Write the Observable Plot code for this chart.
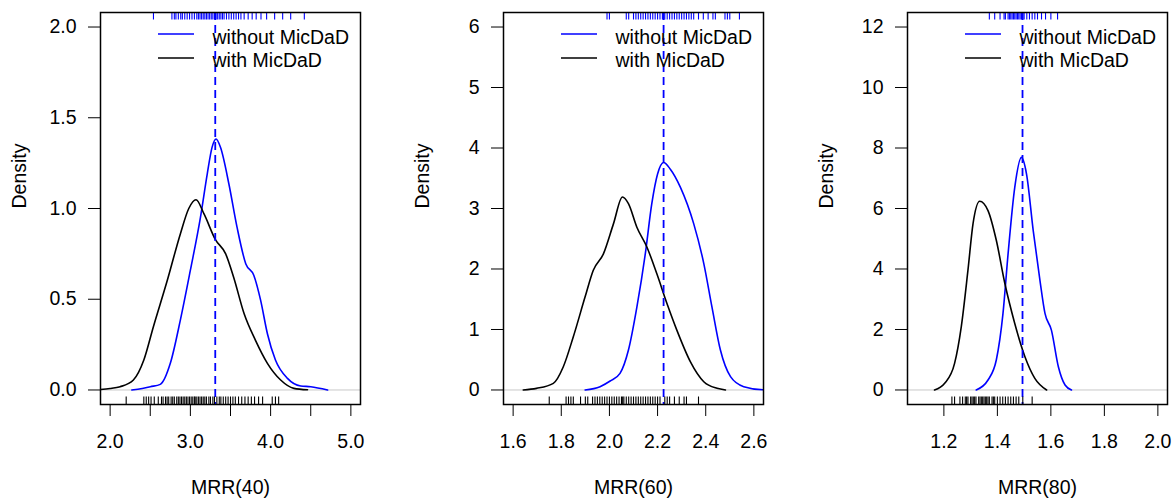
<!DOCTYPE html>
<html><head><meta charset="utf-8">
<script src="https://cdn.jsdelivr.net/npm/d3@7"></script>
<script src="https://cdn.jsdelivr.net/npm/@observablehq/plot@0.6"></script>
<style>
html,body{margin:0;padding:0;background:#fff;overflow:hidden;width:1174px;height:498px}
.panel{position:absolute;top:0}
</style></head><body>
<div id="p0" class="panel" style="left:0px"></div>
<div id="p1" class="panel" style="left:403px"></div>
<div id="p2" class="panel" style="left:807px"></div>
<script>
// ---- data ----
const seriesNames = ["without MicDaD", "with MicDaD"];
const xLabels = ["MRR(40)", "MRR(60)", "MRR(80)"];

// density curves [x, density]
const without40 = [[2.27,0],[2.4,0.008],[2.5,0.018],[2.625,0.031],[2.75,0.147],[2.875,0.385],[3.0,0.66],[3.125,0.95],[3.21,1.19],[3.27,1.337],[3.32,1.383],[3.375,1.337],[3.48,1.135],[3.58,0.90],[3.69,0.696],[3.79,0.632],[3.875,0.495],[3.96,0.31],[4.06,0.165],[4.21,0.064],[4.375,0.022],[4.5,0.018],[4.71,0]];
const with40 = [[1.88,0.003],[2.0,0.008],[2.125,0.018],[2.29,0.055],[2.42,0.165],[2.54,0.35],[2.71,0.60],[2.875,0.86],[2.98,1.0],[3.07,1.048],[3.17,0.97],[3.31,0.83],[3.44,0.75],[3.54,0.62],[3.67,0.42],[3.81,0.275],[3.96,0.147],[4.125,0.055],[4.29,0.009],[4.46,0.001]];

const without60 = [[1.899,0],[1.961,0.055],[2.003,0.148],[2.044,0.275],[2.079,0.66],[2.114,1.37],[2.149,2.25],[2.176,3.08],[2.2,3.57],[2.225,3.76],[2.253,3.65],[2.295,3.35],[2.35,2.75],[2.392,2.09],[2.426,1.37],[2.461,0.66],[2.503,0.22],[2.558,0.055],[2.64,0.003],[2.7,0]];
const with60 = [[1.642,0],[1.697,0.027],[1.767,0.11],[1.808,0.38],[1.85,0.88],[1.899,1.54],[1.933,1.98],[1.975,2.25],[2.017,2.75],[2.054,3.19],[2.079,3.08],[2.114,2.69],[2.156,2.36],[2.197,1.92],[2.239,1.43],[2.28,0.99],[2.336,0.47],[2.392,0.137],[2.447,0.027],[2.482,0]];

const without80 = [[1.321,0],[1.365,0.33],[1.396,0.99],[1.421,2.53],[1.44,4.5],[1.465,6.7],[1.49,7.69],[1.509,7.14],[1.534,5.27],[1.559,3.63],[1.578,2.53],[1.602,1.98],[1.628,0.77],[1.653,0.165],[1.677,0]];
const with80 = [[1.165,0],[1.203,0.22],[1.24,0.88],[1.265,2.09],[1.29,3.96],[1.309,5.5],[1.334,6.24],[1.365,5.93],[1.396,4.95],[1.428,3.52],[1.465,2.2],[1.503,1.1],[1.54,0.385],[1.584,0]];

// rug values
const rugWithout40 = [2.54,2.77,2.80,2.82,2.85,2.88,2.90,2.93,2.96,2.99,3.02,3.05,3.08,3.10,3.12,3.14,3.16,3.18,3.20,3.22,3.24,3.26,3.28,3.30,3.32,3.34,3.36,3.38,3.40,3.42,3.45,3.48,3.51,3.54,3.57,3.60,3.63,3.67,3.72,3.77,3.82,3.88,3.95,4.05,4.15,4.25,4.42];
const rugWith40 = [2.20,2.42,2.45,2.48,2.51,2.55,2.60,2.64,2.66,2.69,2.71,2.73,2.76,2.78,2.80,2.83,2.85,2.87,2.89,2.91,2.93,2.95,2.97,2.99,3.01,3.03,3.05,3.06,3.08,3.10,3.12,3.14,3.16,3.18,3.20,3.23,3.25,3.28,3.30,3.33,3.36,3.38,3.41,3.44,3.47,3.50,3.53,3.56,3.60,3.64,3.68,3.72,3.76,3.80,3.85,3.90,4.02,4.06,4.10];
const rugWithout60 = [1.99,2.00,2.07,2.08,2.10,2.11,2.12,2.13,2.14,2.15,2.16,2.17,2.18,2.19,2.20,2.21,2.22,2.23,2.24,2.25,2.26,2.27,2.28,2.29,2.30,2.31,2.32,2.33,2.34,2.35,2.37,2.39,2.41,2.43,2.44,2.48,2.49,2.50,2.54];
const rugWith60 = [1.75,1.82,1.83,1.84,1.85,1.88,1.90,1.91,1.93,1.94,1.95,1.96,1.97,1.98,1.99,2.00,2.01,2.02,2.03,2.04,2.05,2.055,2.06,2.07,2.08,2.09,2.10,2.11,2.12,2.13,2.14,2.15,2.16,2.17,2.18,2.19,2.20,2.21,2.23,2.24,2.25,2.27,2.29,2.31,2.32,2.37];
const rugWithout80 = [1.37,1.39,1.41,1.425,1.43,1.44,1.445,1.45,1.455,1.46,1.465,1.47,1.475,1.48,1.485,1.49,1.495,1.50,1.51,1.52,1.53,1.54,1.55,1.565,1.58,1.60,1.625];
const rugWith80 = [1.23,1.24,1.26,1.27,1.28,1.285,1.29,1.30,1.305,1.31,1.315,1.32,1.33,1.335,1.34,1.345,1.35,1.355,1.36,1.365,1.37,1.38,1.385,1.39,1.40,1.41,1.42,1.43,1.44,1.45,1.46,1.47,1.48,1.495,1.53];

// reference (dashed) lines
const refValues = [3.31, 2.225, 1.494];

// axes
const xDomains = [[1.88, 5.12], [1.56, 2.64], [1.064, 2.036]];
const xTicks = [[2,2.5,3,3.5,4,4.5,5], [1.6,1.8,2.0,2.2,2.4,2.6], [1.2,1.4,1.6,1.8,2.0]];
const xTickLabels = [["2.0","","3.0","","4.0","","5.0"], ["1.6","1.8","2.0","2.2","2.4","2.6"], ["1.2","1.4","1.6","1.8","2.0"]];
const yDomains = [[-0.08, 2.08], [-0.24, 6.24], [-0.48, 12.48]];
const yTicks = [[0,0.5,1,1.5,2], [0,1,2,3,4,5,6], [0,2,4,6,8,10,12]];
const yTickLabels = [["0.0","0.5","1.0","1.5","2.0"], ["0","1","2","3","4","5","6"], ["0","2","4","6","8","10","12"]];

// ---- drawing ----
const BLUE = "#0000ff";
const FONT = "'Liberation Sans', Arial, Helvetica, sans-serif";
const H = 498, MT = 12, MB = 94, ML = 100;
const boxH = H - MT - MB;
const rugLen = 7.5;

const panels = [
  {without: without40, with: with40, rugA: rugWithout40, rugB: rugWith40, mr: 30},
  {without: without60, with: with60, rugA: rugWithout60, rugB: rugWith60, mr: 30},
  {without: without80, with: with80, rugA: rugWithout80, rugB: rugWith80, mr: 7}
];

panels.forEach((p, i) => {
  const xt = xTicks[i], xl = xTickLabels[i], yt = yTicks[i], yl = yTickLabels[i];
  const plot = Plot.plot({
    width: ML + 260 + p.mr, height: H,
    marginLeft: ML, marginRight: p.mr, marginTop: MT, marginBottom: MB,
    style: {fontFamily: FONT, fontSize: "19.5px", color: "black", background: "white", overflow: "visible"},
    x: {domain: xDomains[i], ticks: xt, tickFormat: d => xl[xt.indexOf(d)] ?? "", tickSize: 12, tickPadding: 18, label: null},
    y: {domain: yDomains[i], ticks: yt, tickFormat: d => yl[yt.indexOf(d)] ?? "", tickSize: 12, tickPadding: 12, label: null},
    marks: [
      Plot.ruleY([0], {stroke: "#c8c8c8", strokeWidth: 1}),
      Plot.line(p.without, {x: d => d[0], y: d => d[1], stroke: BLUE, strokeWidth: 1.6, curve: "monotone-x", clip: true}),
      Plot.line(p.with, {x: d => d[0], y: d => d[1], stroke: "black", strokeWidth: 1.6, curve: "monotone-x", clip: true}),
      Plot.ruleX([refValues[i]], {stroke: BLUE, strokeWidth: 1.8, strokeDasharray: "8,5"}),
      Plot.ruleX(p.rugB, {x: d => d, insetTop: boxH - rugLen, stroke: "black", strokeWidth: 1.1}),
      Plot.ruleX(p.rugA, {x: d => d, insetBottom: boxH - rugLen, stroke: BLUE, strokeWidth: 1.1}),
      Plot.frame({stroke: "black", strokeWidth: 1.5}),
      Plot.text([xLabels[i]], {frameAnchor: "bottom", dy: 76, lineAnchor: "top", fill: "black"}),
      Plot.text(["Density"], {frameAnchor: "left", rotate: -90, dx: -88, lineAnchor: "top", fill: "black"}),
      Plot.text([seriesNames[0]], {frameAnchor: "top-left", dx: 112, dy: 25, lineAnchor: "middle", textAnchor: "start", fill: "black"}),
      Plot.text([seriesNames[1]], {frameAnchor: "top-left", dx: 112, dy: 48.5, lineAnchor: "middle", textAnchor: "start", fill: "black"})
    ]
  });
  // legend line keys
  const svg = d3.select(plot);
  const colors = [BLUE, "black"];
  [22, 46].forEach((dy, k) => {
    svg.append("line")
      .attr("x1", ML + 58).attr("x2", ML + 94)
      .attr("y1", MT + dy).attr("y2", MT + dy)
      .attr("stroke", colors[k]).attr("stroke-width", 1.6);
  });
  document.getElementById("p" + i).appendChild(plot);
});
</script>
</body></html>
